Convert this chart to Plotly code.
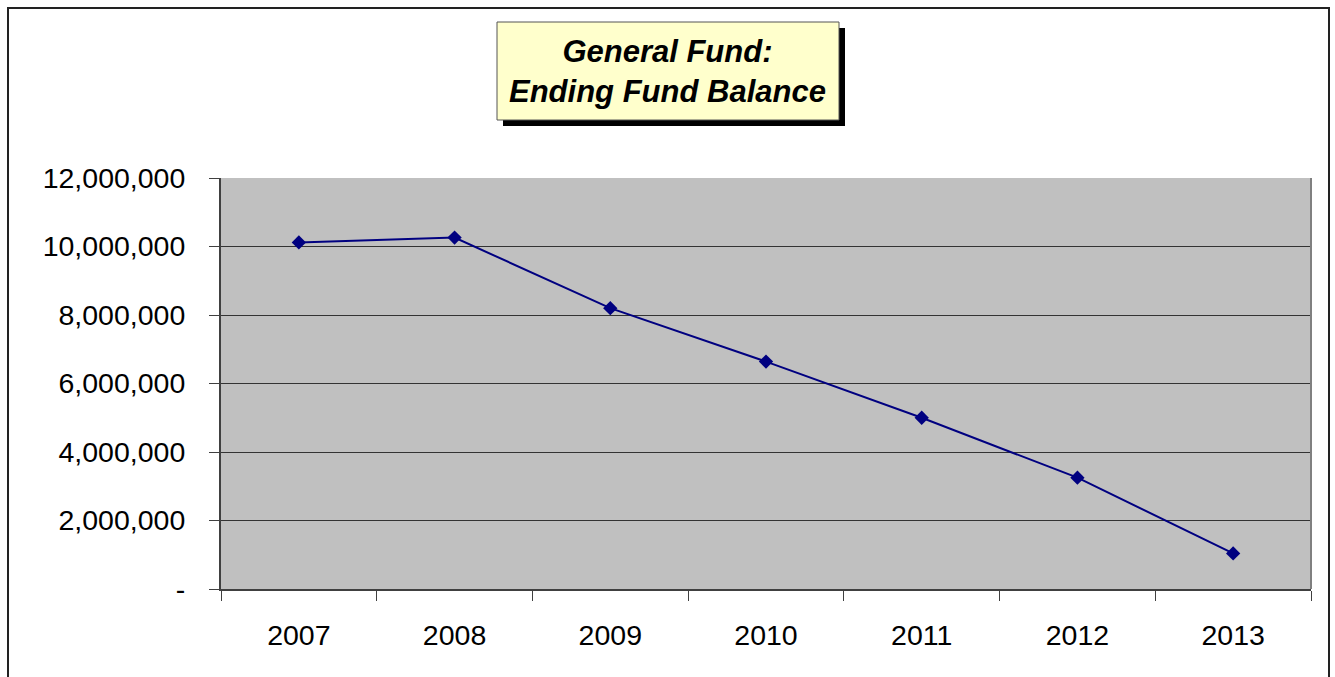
import plotly.graph_objects as go

years = ["2007", "2008", "2009", "2010", "2011", "2012", "2013"]
balance = [10120000, 10260000, 8200000, 6640000, 5000000, 3250000, 1040000]
ytick_vals = [0, 2000000, 4000000, 6000000, 8000000, 10000000, 12000000]
ytick_text = ["-", "2,000,000", "4,000,000", "6,000,000", "8,000,000", "10,000,000", "12,000,000"]
title_text = "<b><i>General Fund:<br>Ending Fund Balance</i></b>"

W, H = 1335, 677
L, R, T, B = 221, 1311, 178, 589
FONT = "Arial, 'Liberation Sans', sans-serif"

def px(x):
    return (x - L) / (R - L)

def py(y):
    return (B - y) / (B - T)

fig = go.Figure()
fig.add_trace(go.Scatter(
    x=years, y=balance, mode="lines+markers",
    line=dict(color="#000080", width=2),
    marker=dict(symbol="diamond", size=11, color="#000080"),
    showlegend=False, hoverinfo="x+y",
))

shapes = [
    # outer chart border
    dict(type="rect", xref="paper", yref="paper", x0=px(8), x1=px(1329), y0=py(700), y1=py(8),
         line=dict(color="#222222", width=2), fillcolor="rgba(0,0,0,0)", layer="below"),
    # right border of plot area
    dict(type="line", xref="paper", yref="paper", x0=1, x1=1, y0=0, y1=1,
         line=dict(color="#808080", width=2)),
    # title shadow
    dict(type="rect", xref="paper", yref="paper", x0=px(503), x1=px(845), y0=py(126), y1=py(28),
         line=dict(width=0), fillcolor="black"),
    # title box
    dict(type="rect", xref="paper", yref="paper", x0=px(497), x1=px(839), y0=py(120), y1=py(22),
         line=dict(color="#555555", width=1), fillcolor="#FFFFCC"),
]

fig.update_layout(
    width=W, height=H,
    margin=dict(l=L, r=W - R, t=T, b=H - B, pad=0),
    paper_bgcolor="white", plot_bgcolor="#C0C0C0",
    font=dict(family=FONT, size=28.5, color="black"),
    shapes=shapes,
    annotations=[dict(
        text=title_text, xref="paper", yref="paper", x=px(667), y=py(71),
        xanchor="center", yanchor="middle", showarrow=False,
        font=dict(family=FONT, size=31, color="black"), align="center",
    )],
    xaxis=dict(
        type="category", showgrid=False, zeroline=False,
        showline=True, linecolor="#404040", linewidth=2,
        ticks="outside", tickson="boundaries", ticklen=10, tickcolor="#404040", tickwidth=1,
        ticklabelstandoff=20, tickfont=dict(size=28.5),
        range=[-0.5, 6.5],
    ),
    yaxis=dict(
        range=[0, 12000000], tickvals=ytick_vals, ticktext=ytick_text,
        showgrid=True, gridcolor="#333333", gridwidth=1, zeroline=False,
        showline=True, linecolor="#404040", linewidth=2,
        ticks="outside", ticklen=10, tickcolor="#404040", tickwidth=1,
        ticklabelstandoff=18, tickfont=dict(size=28.5),
    ),
)

fig.write_html("out.html")
